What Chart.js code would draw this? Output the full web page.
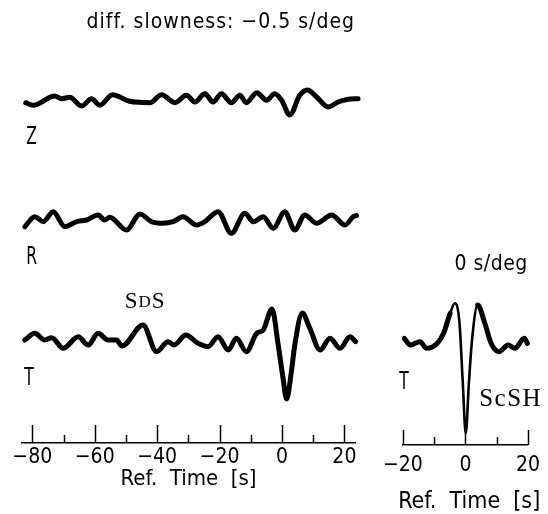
<!DOCTYPE html>
<html>
<head>
<meta charset="utf-8">
<script src="https://cdn.jsdelivr.net/npm/chart.js@4.4.0/dist/chart.umd.min.js"></script>
<style>
  body { margin: 0; background: #fff; }
  #wrap { position: relative; width: 548px; height: 514px; }
  canvas { position: absolute; top: 0; }
</style>
</head>
<body>
<div id="wrap">
  <canvas id="left" width="372" height="514" style="left:0;width:372px;height:514px"></canvas>
  <canvas id="right" width="173" height="514" style="left:375px;width:173px;height:514px"></canvas>
</div>
<script>
// diff. slowness -0.5 s/deg: Z, R, T traces (times in s, amplitudes)
const zTime = [-82.1, -79.7, -72.8, -70.6, -68.0, -64.2, -61.0, -58.4, -54.3, -48.8, -42.3, -38.6, -34.3, -30.6, -27.9, -24.7, -22.1, -19.4, -16.2, -13.5, -11.4, -8.1, -4.9, -2.3, -0.1, 2.5, 5.7, 8.2, 11.1, 14.8, 18.0, 21.2, 24.4];
const zAmp  = [-1.7, -4.3, 5.0, 2.3, 3.7, -5.0, 2.3, -4.3, 6.3, -0.3, -1.7, 6.3, -1.7, 5.7, -1.0, 7.3, -1.0, 7.3, -1.7, 5.7, -1.7, 8.3, 0.7, 7.3, 0.7, -14.0, 5.7, 11.0, 4.0, -6.0, -1.0, 1.7, 2.3];

const rTime = [-82.4, -79.2, -76.5, -73.3, -69.6, -65.8, -62.6, -58.9, -56.8, -55.2, -49.8, -45.5, -41.8, -38.1, -34.9, -31.7, -27.4, -24.7, -20.5, -16.2, -11.9, -9.2, -6.0, -2.8, 0.9, 4.1, 7.3, 11.1, 15.9, 20.2, 22.8, 23.9];
const rAmp  = [-5.7, 4.3, -0.7, 9.3, -5.7, -0.7, 1.0, 6.0, 1.0, 3.7, -9.0, 7.0, -0.7, -2.3, -0.7, 4.3, -4.0, -0.7, 9.3, -12.3, 7.7, -0.7, 4.3, -7.3, 9.3, -9.0, 6.0, -2.3, 6.0, -4.0, 4.3, 5.5];

const tTime = [-82.4, -79.2, -76.0, -73.8, -70.1, -65.3, -62.1, -58.9, -55.7, -53.0, -51.3, -44.5, -40.2, -36.5, -34.6, -30.8, -26.9, -23.7, -20.5, -17.2, -14.6, -11.4, -8.1, -6.0, -3.2, -1.2, 0.2, 1.5, 3.0, 4.1, 6.5, 8.9, 12.2, 15.4, 18.6, 21.8, 23.6];
const tAmp  = [1.0, 7.7, 1.0, 3.3, -7.3, 4.3, -4.0, 7.7, 1.0, 1.0, -5.0, 16.0, -10.7, -0.7, -4.0, 6.0, -2.3, -5.7, 4.3, -9.0, 2.7, -10.7, 7.7, 11.0, 32.0, -4.0, -34.0, -58.0, -31.0, -4.0, 28.0, 13.0, -9.0, 2.7, -7.3, 4.3, -0.7];

// 0 s/deg: T trace with ScSH
const scTime = [-19.6, -17.6, -14.5, -12.5, -9.0, -7.0, -4.9, -3.4, -1.9, -0.9, 0.1, 1.1, 2.1, 3.9, 6.2, 8.2, 10.7, 13.7, 15.8, 18.8, 19.8];
const scAmp  = [6.7, 0.0, 3.3, -3.3, 1.7, 11.7, 31.7, 41.7, 21.7, -35.0, -88.3, -38.0, 5.0, 40.0, 21.7, 1.7, -6.7, 0.0, -3.3, 6.7, 1.7];

const leftLabels = [-80, -60, -40, -20, 0, 20];
const leftMinor = [-70, -50, -30, -10, 10];
const rightLabels = [-20, 0, 20];
const rightMinor = [-10, 10];

const traceGap = 120;
const sans = "'DejaVu Sans Condensed', 'Liberation Sans Narrow', sans-serif";
const serif = "'Liberation Serif', 'DejaVu Serif', serif";

function trace(times, amps, shift, width) {
  return {
    data: times.map((t, i) => ({ x: t, y: amps[i] + shift })),
    borderColor: '#000',
    borderWidth: width,
    pointRadius: 0,
    cubicInterpolationMode: 'monotone',
    borderJoinStyle: 'round',
    borderCapStyle: 'round',
    clip: false
  };
}

function minus(v) {
  return v < 0 ? '\u2212' + Math.abs(v) : String(v);
}

// upward tick marks on the time axis
const tickMarks = {
  id: 'tickMarks',
  afterDraw(chart, args, opts) {
    const ctx = chart.ctx;
    const sx = chart.scales.x;
    const y0 = chart.chartArea.bottom;
    ctx.save();
    ctx.strokeStyle = '#000';
    ctx.lineWidth = 1.5;
    const mark = (v, len) => {
      const px = Math.round(sx.getPixelForValue(v)) + 0.5;
      ctx.beginPath();
      ctx.moveTo(px, y0);
      ctx.lineTo(px, y0 - len);
      ctx.stroke();
    };
    opts.major.forEach(v => mark(v, opts.majorLen));
    opts.minor.forEach(v => mark(v, opts.minorLen));
    ctx.restore();
  }
};

// trace names, phase labels and titles
const notes = {
  id: 'notes',
  afterDraw(chart, args, opts) {
    const ctx = chart.ctx;
    const sx = chart.scales.x, sy = chart.scales.y;
    ctx.save();
    ctx.fillStyle = '#000';
    ctx.textBaseline = 'middle';
    opts.items.forEach(it => {
      let x = sx.getPixelForValue(it.x);
      const y = sy.getPixelForValue(it.y);
      ctx.textAlign = it.align || 'left';
      ctx.letterSpacing = it.spacing || '0px';
      if (it.parts) {
        it.parts.forEach(p => {
          ctx.font = p.font;
          ctx.fillText(p.text, x, y + (p.dy || 0));
          x += ctx.measureText(p.text).width;
        });
      } else if (it.narrow) {
        ctx.save();
        ctx.font = it.font;
        ctx.translate(x, y);
        ctx.scale(it.narrow, 1);
        ctx.fillText(it.text, 0, 0);
        ctx.restore();
      } else {
        ctx.font = it.font;
        ctx.fillText(it.text, x, y);
      }
    });
    ctx.restore();
  }
};

function timeAxis(min, max, labels, tickPad, axisHeight, title) {
  return {
    type: 'linear',
    min: min,
    max: max,
    grid: { display: false, drawTicks: false },
    border: { display: true, color: '#000', width: 1.5 },
    afterBuildTicks: s => { s.ticks = labels.map(v => ({ value: v })); },
    afterFit: s => { s.height = axisHeight; },
    ticks: {
      color: '#000',
      padding: tickPad,
      autoSkip: false,
      maxRotation: 0,
      font: { family: sans, size: 21 },
      callback: v => minus(v)
    },
    title: title
  };
}

new Chart(document.getElementById('left'), {
  type: 'line',
  data: {
    datasets: [
      trace(zTime, zAmp, 2 * traceGap, 5),
      trace(rTime, rAmp, traceGap, 5),
      trace(tTime, tAmp, 0, 5)
    ]
  },
  options: {
    responsive: false,
    animation: false,
    layout: { padding: { left: 22, right: 17, top: 50, bottom: 0 } },
    plugins: {
      legend: { display: false },
      tooltip: { enabled: false },
      tickMarks: { major: leftLabels, minor: leftMinor, majorLen: 18, minorLen: 8 },
      notes: {
        items: [
          { text: 'diff. slowness: \u22120.5 s/deg', x: -19.6, y: 318, align: 'center', font: '21px ' + sans, spacing: '1px' },
          { text: 'Z', x: -81.9, y: 2 * traceGap - 37, font: '24px ' + sans, narrow: 0.72 },
          { text: 'R', x: -81.9, y: traceGap - 37, font: '24px ' + sans, narrow: 0.72 },
          { text: 'T', x: -82.6, y: -38, font: '24px ' + sans, narrow: 0.72 },
          { x: -50.4, y: 39.5, parts: [
            { text: 'S', font: '23px ' + serif },
            { text: 'D', font: '17px ' + serif, dy: 1.5 },
            { text: 'S', font: '23px ' + serif }
          ], spacing: '1px' }
        ]
      }
    },
    scales: {
      x: timeAxis(-83.3, 23.4, leftLabels, 2, 71, {
        display: true,
        text: 'Ref.  Time  [s]',
        color: '#000',
        font: { family: sans, size: 22 },
        padding: { top: 0, bottom: 22 }
      }),
      y: { display: false, min: -102, max: 291 }
    }
  },
  plugins: [tickMarks, notes]
});

new Chart(document.getElementById('right'), {
  type: 'line',
  data: {
    datasets: [
      Object.assign(trace(scTime, scAmp, 0, 5), {
        segment: {
          borderWidth: c => (Math.abs(c.p0.parsed.x) < 5 && Math.abs(c.p1.parsed.x) < 5) ? 2.6 : 5
        }
      })
    ]
  },
  options: {
    responsive: false,
    animation: false,
    layout: { padding: { left: 27, right: 14, top: 250, bottom: 0 } },
    plugins: {
      legend: { display: false },
      tooltip: { enabled: false },
      tickMarks: { major: rightLabels, minor: rightMinor, majorLen: 15, minorLen: 8 },
      notes: {
        items: [
          { text: '0 s/deg', x: 8.2, y: 80, align: 'center', font: '21px ' + sans, spacing: '0.5px' },
          { text: 'T', x: -21.2, y: -38, font: '24px ' + sans, narrow: 0.72 },
          { text: 'ScSH', x: 4.4, y: -54.5, font: '25px ' + serif, spacing: '1.5px' },
          { text: 'Ref.  Time  [s]', x: 1.2, y: -157, align: 'center', font: '23px ' + sans }
        ]
      }
    },
    scales: {
      x: timeAxis(-20, 20, rightLabels, 8, 69, { display: false }),
      y: { display: false, min: -100, max: 95 }
    }
  },
  plugins: [tickMarks, notes]
});
</script>
</body>
</html>
